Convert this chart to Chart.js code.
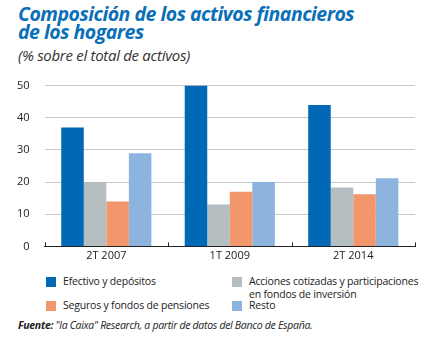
<!DOCTYPE html>
<html>
<head>
<meta charset="utf-8">
<script src="https://cdn.jsdelivr.net/npm/chart.js@4/dist/chart.umd.min.js"></script>
<style>
  body { margin: 0; background: #fff; font-family: "Open Sans", sans-serif; }
  #wrap { position: relative; width: 429px; height: 338px; overflow: hidden; }
  h1 { position: absolute; left: 18px; top: 5px; margin: 0; font: italic bold 19.5px/18px "Open Sans", sans-serif; color: #0a6fb8; letter-spacing: -0.5px; }
  .sub { position: absolute; left: 18px; top: 45px; font: italic 15px "Open Sans", sans-serif; color: #333; letter-spacing: -0.3px; }
  #grafico { position: absolute; left: 0; top: 64px; }
  #legend { position: absolute; left: 0; top: 275px; width: 429px; font: 10.5px "Open Sans", sans-serif; color: #222; letter-spacing: -0.2px; }
  .item { position: absolute; line-height: 13px; }
  .sw { position: absolute; left: -17px; top: 2px; width: 10px; height: 10px; }
  .src { position: absolute; left: 18px; top: 318px; font: italic 10.5px "Open Sans", sans-serif; color: #222; letter-spacing: -0.3px; }
</style>
</head>
<body>
<div id="wrap">
  <h1>Composición de los activos financieros<br>de los hogares</h1>
  <div class="sub">(% sobre el total de activos)</div>
  <canvas id="grafico" width="429" height="204" style="width:429px;height:204px"></canvas>
  <div id="legend"></div>
  <div class="src"><b>Fuente:</b> "la Caixa" Research, a partir de datos del Banco de España.</div>
</div>
<script>
// datos
var periodos = ['2T 2007', '1T 2009', '2T 2014'];
var efectivo = [37, 50, 44];
var acciones = [20, 13, 18.3];
var seguros = [14, 17, 16.2];
var resto = [29, 20, 21.2];
var ticksY = [0, 10, 20, 30, 40, 50];

var series = [
  { label: 'Efectivo y depósitos', data: efectivo, color: '#0068b4', x: 63, y: 0 },
  { label: 'Acciones cotizadas y participaciones\nen fondos de inversión', data: acciones, color: '#b4bec1', x: 249, y: 0 },
  { label: 'Seguros y fondos de pensiones', data: seguros, color: '#f2966c', x: 63, y: 24 },
  { label: 'Resto', data: resto, color: '#8db3df', x: 249, y: 24 }
];

// ticks de categoría hacia arriba
var marcasX = {
  id: 'marcasX',
  afterDraw: function (chart) {
    var c = chart.ctx, xs = chart.scales.x, y0 = chart.chartArea.bottom;
    c.save();
    c.strokeStyle = '#222';
    c.lineWidth = 1;
    for (var i = 0; i <= periodos.length; i++) {
      var px = Math.round(xs.getPixelForValue(i - 0.5)) + 0.5;
      c.beginPath();
      c.moveTo(px, y0);
      c.lineTo(px, y0 - 4);
      c.stroke();
    }
    c.restore();
  }
};

var ctx = document.getElementById('grafico').getContext('2d');
var grafico = new Chart(ctx, {
  type: 'bar',
  data: {
    labels: periodos,
    datasets: series.map(function (s) {
      return { label: s.label, data: s.data, backgroundColor: s.color, borderWidth: 0 };
    })
  },
  options: {
    responsive: false,
    animation: false,
    devicePixelRatio: 1,
    layout: { padding: { left: 2, right: 14, top: 3, bottom: 0 } },
    plugins: { legend: { display: false }, tooltip: { enabled: false } },
    datasets: { bar: { categoryPercentage: 0.73, barPercentage: 1 } },
    scales: {
      x: {
        grid: { display: false, drawTicks: false },
        border: { display: true, color: '#222', width: 1 },
        ticks: { color: '#222', font: { family: 'Open Sans', size: 11 }, padding: 3 }
      },
      y: {
        min: 0,
        max: 50,
        afterBuildTicks: function (axis) { axis.ticks = ticksY.map(function (v) { return { value: v }; }); },
        grid: {
          color: function (c) { return c.tick.value === 0 ? 'rgba(0,0,0,0)' : '#c8c8c8'; },
          drawTicks: false
        },
        border: { display: false },
        ticks: { color: '#222', font: { family: 'Open Sans', size: 11 }, padding: 15 }
      }
    }
  },
  plugins: [marcasX]
});

// leyenda
var leg = document.getElementById('legend');
series.forEach(function (s) {
  var d = document.createElement('div');
  d.className = 'item';
  d.style.left = s.x + 'px';
  d.style.top = s.y + 'px';
  d.innerHTML = '<span class="sw" style="background:' + s.color + '"></span>' + s.label.replace('\n', '<br>');
  leg.appendChild(d);
});
</script>
</body>
</html>
